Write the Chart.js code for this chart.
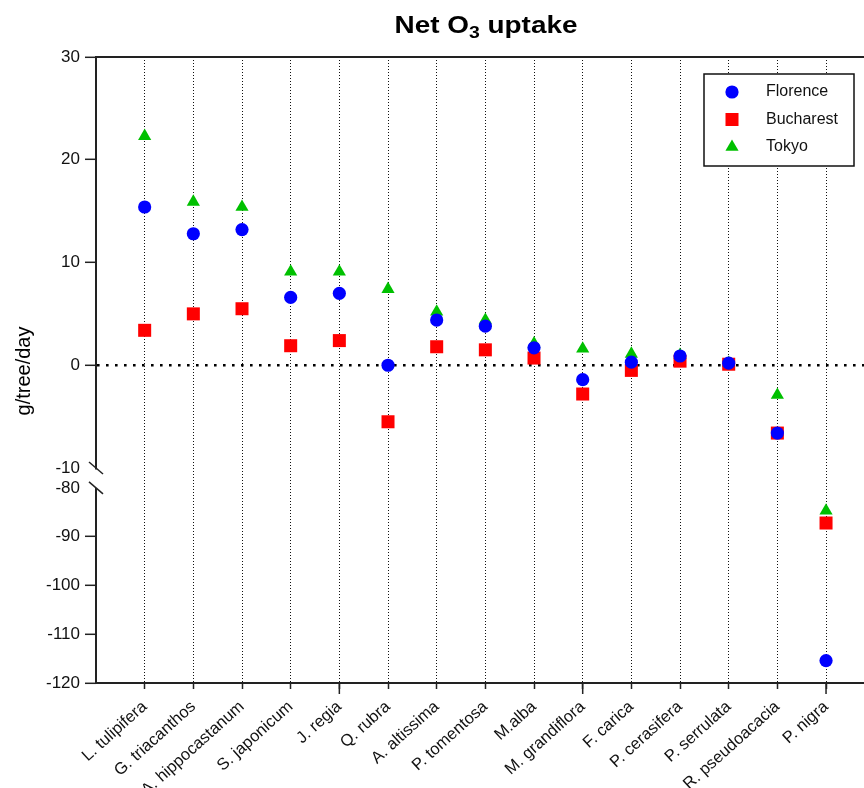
<!DOCTYPE html>
<html><head><meta charset="utf-8">
<style>html,body{margin:0;padding:0;background:#fff;overflow:hidden;}#wrap{width:864px;height:788px;position:relative;overflow:hidden;}canvas{display:block;}</style>
<script src="https://cdn.jsdelivr.net/npm/chart.js@4.4.0/dist/chart.umd.min.js"></script>
</head><body><div id="wrap"><canvas id="c"></canvas></div>
<script>
// ---- data ----
const species = ["L. tulipifera","G. triacanthos","A. hippocastanum","S. japonicum","J. regia","Q. rubra","A. altissima","P. tomentosa","M.alba","M. grandiflora","F. carica","P. cerasifera","P. serrulata","R. pseudoacacia","P. nigra"];
const florence  = [15.4,12.8,13.2,6.6,7.0,0.0,4.4,3.8,1.7,-1.4,0.3,0.9,0.2,-6.6,-115.4];
const bucharest = [3.4,5.0,5.5,1.9,2.4,-5.5,1.8,1.5,0.7,-2.8,-0.5,0.4,0.1,-6.6,-87.2];
const tokyo     = [22.3,15.9,15.4,9.1,9.1,7.4,5.2,4.4,2.1,1.6,1.1,1.0,0.2,-2.9,-84.7];
const upperTicks = [-10,0,10,20,30];
const lowerTicks = [-120,-110,-100,-90,-80];
const seriesNames = ["Florence","Bucharest","Tokyo"];
const titleMain = "Net O", titleSub = "3", titleEnd = " uptake";
const yTitle = "g/tree/day";

const FONT = '"Liberation Sans", Arial, Helvetica, sans-serif';
const BREAK = -50;
const styles = [
  {color:'#0000FF', pointStyle:'circle', radius:6.6},
  {color:'#FF0000', pointStyle:'rect', radius:9.2},
  {color:'#00C000', pointStyle:'triangle', radius:7.6}
];
const allSeries = [florence, bucharest, tokyo];

function pts(vals, lower){
  return vals.map((v,i)=>({x:i,y:v})).filter(p => lower ? p.y < BREAK : p.y >= BREAK);
}
const datasets = [];
allSeries.forEach((vals, k) => {
  [false, true].forEach(lower => {
    datasets.push({
      label: seriesNames[k],
      data: pts(vals, lower),
      yAxisID: lower ? 'y2' : 'y',
      pointStyle: styles[k].pointStyle,
      pointRadius: styles[k].radius,
      pointHoverRadius: styles[k].radius,
      backgroundColor: styles[k].color,
      borderColor: styles[k].color,
      pointBorderWidth: 0,
      showLine: false
    });
  });
});

const decor = {
  id: 'decor',
  beforeDatasetsDraw(chart){
    const {ctx, chartArea:a} = chart;
    ctx.save();
    ctx.strokeStyle = '#222'; ctx.lineWidth = 2;
    ctx.beginPath(); ctx.moveTo(a.left, a.top); ctx.lineTo(a.right, a.top); ctx.stroke();
    const y2 = chart.scales.y2;
    ctx.beginPath(); ctx.moveTo(a.left, y2.getPixelForValue(-80)); ctx.lineTo(a.left, a.bottom); ctx.stroke();
    ctx.restore();
  },
  afterDraw(chart){
    const {ctx, chartArea:a} = chart;
    const y = chart.scales.y, y2 = chart.scales.y2, x = chart.scales.x;
    ctx.save();
    ctx.strokeStyle = '#222'; ctx.lineWidth = 1.5;
    [y.getPixelForValue(-10), y2.getPixelForValue(-80)].forEach(py => {
      ctx.beginPath(); ctx.moveTo(a.left-7, py-6); ctx.lineTo(a.left+7, py+6); ctx.stroke();
    });
    ctx.lineWidth = 1.5;
    [4,9,14].forEach(i => {
      const px = x.getPixelForValue(i);
      ctx.beginPath(); ctx.moveTo(px, a.bottom); ctx.lineTo(px, a.bottom+11); ctx.stroke();
    });
    // title
    ctx.fillStyle = '#000';
    ctx.textBaseline = 'alphabetic';
    ctx.font = 'bold 23px ' + FONT;
    const w1 = ctx.measureText(titleMain).width, w3 = ctx.measureText(titleEnd).width;
    ctx.font = 'bold 16px ' + FONT;
    const w2 = ctx.measureText(titleSub).width;
    const tot = w1 + w2 + w3;
    const sx = 183 / tot;
    ctx.save();
    ctx.translate(486, 33);
    ctx.scale(sx, 1);
    ctx.textAlign = 'left';
    ctx.font = 'bold 23px ' + FONT;
    ctx.fillText(titleMain, -tot/2, 0);
    ctx.font = 'bold 16px ' + FONT;
    ctx.fillText(titleSub, -tot/2 + w1, 5);
    ctx.font = 'bold 23px ' + FONT;
    ctx.fillText(titleEnd, -tot/2 + w1 + w2, 0);
    ctx.restore();
    // y title
    ctx.save();
    ctx.translate(24.5, 371);
    ctx.rotate(-Math.PI/2);
    ctx.textAlign = 'center'; ctx.textBaseline = 'middle';
    ctx.font = '20px ' + FONT;
    ctx.fillText(yTitle, 0, 0);
    ctx.restore();
    // legend
    const lx = a.right - 160, ly = a.top + 17, lw = 150, lh = 92;
    ctx.lineWidth = 1.5; ctx.strokeStyle = '#111';
    ctx.fillStyle = '#fff';
    ctx.fillRect(lx, ly, lw, lh);
    ctx.strokeRect(lx, ly, lw, lh);
    seriesNames.forEach((name, k) => {
      const cy = ly + 18 + k*27.5, cx = lx + 28;
      const st = styles[k];
      ctx.fillStyle = st.color;
      ctx.beginPath();
      if (st.pointStyle === 'circle') { ctx.arc(cx, cy, st.radius, 0, Math.PI*2); }
      else if (st.pointStyle === 'rect') { const s = st.radius*Math.SQRT1_2; ctx.rect(cx-s, cy-s, 2*s, 2*s); }
      else { const r = st.radius; ctx.moveTo(cx, cy-r); ctx.lineTo(cx + r*Math.sin(2*Math.PI/3), cy - r*Math.cos(2*Math.PI/3)); ctx.lineTo(cx + r*Math.sin(4*Math.PI/3), cy - r*Math.cos(4*Math.PI/3)); ctx.closePath(); }
      ctx.fill();
      ctx.fillStyle = '#111';
      ctx.font = '16px ' + FONT;
      ctx.textAlign = 'left'; ctx.textBaseline = 'middle';
      ctx.fillText(name, lx + 62, cy);
    });
    ctx.restore();
  }
};

const tickFont = {family: FONT, size: 17};
function yScale(ticks, min, max, weight, layoutWeight, showBorder){
  return {
    type: 'linear', position: 'left', stack: 'v', stackWeight: weight, weight: layoutWeight,
    min, max,
    afterBuildTicks: s => { s.ticks = ticks.map(v => ({value: v})); },
    afterFit: s => { s.width = 96; },
    ticks: { color: '#111', font: tickFont, padding: 5, callback: v => String(v) },
    grid: {
      color: c => (c.tick && c.tick.value === 0) ? '#000' : 'rgba(0,0,0,0)',
      lineWidth: 2.6,
      tickLength: 11, tickWidth: 1.5,
      tickColor: c => (c.tick && (c.tick.value === -10 || c.tick.value === -80)) ? 'rgba(0,0,0,0)' : '#222'
    },
    border: { display: showBorder, color: '#222', width: 2, dash: [2.6, 6.4] }
  };
}

new Chart(document.getElementById('c'), {
  type: 'scatter',
  data: { datasets },
  options: {
    responsive: true, maintainAspectRatio: false, animation: false,
    devicePixelRatio: 1,
    layout: { autoPadding: false, padding: { top: 57, right: 0, bottom: 0, left: 0 } },
    plugins: { legend: { display: false }, title: { display: false }, tooltip: { enabled: false } },
    scales: {
      x: {
        type: 'linear', min: -1, max: 14.78,
        afterBuildTicks: s => { s.ticks = species.map((_, i) => ({value: i})); },
        afterFit: s => { s.height = 105; s.paddingLeft = 0; s.paddingRight = 0; },
        ticks: { color: '#111', font: {family: FONT, size: 16.5}, minRotation: 42, maxRotation: 42, autoSkip: false, padding: 8,
                 callback: v => species[v] ?? '' },
        grid: { color: '#111', lineWidth: 1, tickLength: 6, tickWidth: 1.5, tickColor: '#222' },
        border: { display: true, color: '#222', width: 2, dash: [1, 2] }
      },
      y: yScale(upperTicks, -10, 30, 411, 2, true),
      y2: yScale(lowerTicks, -120, -75.92, 215, 1, false)
    }
  },
  plugins: [decor]
});
</script>
</body></html>
